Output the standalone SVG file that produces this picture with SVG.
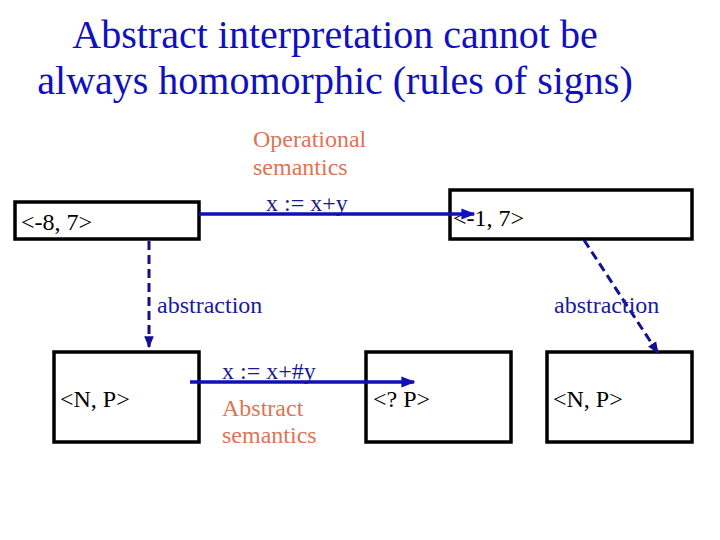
<svg xmlns="http://www.w3.org/2000/svg" width="720" height="540" viewBox="0 0 720 540">
<style>
text{font-family:"Liberation Serif","Times New Roman",serif;}
.title{font-size:40px;fill:#1010C0;text-anchor:middle;}
.lbl{font-size:24px;fill:#000;}
.op{font-size:24px;fill:#1A1A8C;}
.sem{font-size:24px;fill:#DB7556;}
.abs{font-size:24px;fill:#1A1A9C;}
.box{fill:#fff;stroke:#000;stroke-width:3.5;}
.solid{stroke:#1010B8;stroke-width:3.5;fill:none;}
.dash{stroke:#101090;stroke-width:3;fill:none;stroke-dasharray:9 5;}
</style>
<defs>
<marker id="ah" viewBox="0 0 10 10" refX="9" refY="5" markerWidth="4" markerHeight="4" orient="auto" markerUnits="strokeWidth">
<path d="M0,1 L10,5 L0,9 z" fill="#1010B8"/>
</marker>
<marker id="ahd" viewBox="0 0 10 10" refX="9" refY="5" markerWidth="4" markerHeight="4" orient="auto" markerUnits="strokeWidth">
<path d="M0,1 L10,5 L0,9 z" fill="#101090"/>
</marker>
</defs>
<g id="title">
<text class="title" x="335" y="48">Abstract interpretation cannot be</text>
<text class="title" x="335" y="94">always homomorphic (rules of signs)</text>
</g>
<g id="concrete-start"><rect class="box" x="15" y="202" width="184" height="37"/><text class="lbl" x="21" y="230">&lt;-8, 7&gt;</text></g>
<g id="concrete-end"><rect class="box" x="450" y="190" width="242" height="49"/><text class="lbl" x="453" y="226">&lt;-1, 7&gt;</text></g>
<g id="abstract-start"><rect class="box" x="54" y="352" width="145" height="90"/><text class="lbl" x="60" y="407">&lt;N, P&gt;</text></g>
<g id="abstract-result"><rect class="box" x="366" y="352" width="145" height="90"/><text class="lbl" x="373" y="407">&lt;? P&gt;</text></g>
<g id="abstract-end"><rect class="box" x="547" y="352" width="145" height="90"/><text class="lbl" x="553" y="407">&lt;N, P&gt;</text></g>
<g id="connectors">
<line class="solid" x1="199" y1="214" x2="474" y2="214" marker-end="url(#ah)"/>
<line class="solid" x1="190" y1="382" x2="414" y2="382" marker-end="url(#ah)"/>
<line class="dash" x1="149" y1="241" x2="149" y2="347" marker-end="url(#ahd)"/>
<line class="dash" x1="584" y1="240" x2="658" y2="353" marker-end="url(#ahd)"/>
<text class="sem" x="253" y="147">Operational</text>
<text class="sem" x="253" y="175">semantics</text>
<text class="op" x="266" y="211">x := x+y</text>
<text class="op" x="222" y="379">x := x+#y</text>
<text class="sem" x="222" y="416">Abstract</text>
<text class="sem" x="222" y="443">semantics</text>
<text class="abs" x="157" y="313">abstraction</text>
<text class="abs" x="554" y="313">abstraction</text>
</g>
</svg>
